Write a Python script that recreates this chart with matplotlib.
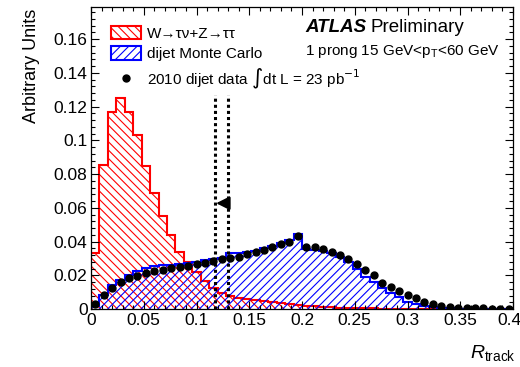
import numpy as np
import matplotlib
matplotlib.use('Agg')
import matplotlib.pyplot as plt
from matplotlib.patches import Patch
from matplotlib.lines import Line2D
from matplotlib.font_manager import FontProperties
from matplotlib.transforms import ScaledTranslation
from matplotlib.ticker import MultipleLocator, FixedLocator, FixedFormatter

plt.rcParams['font.family'] = ['Liberation Sans', 'DejaVu Sans']
plt.rcParams['mathtext.fontset'] = 'custom'
plt.rcParams['mathtext.rm'] = 'Liberation Sans'
plt.rcParams['mathtext.it'] = 'Liberation Sans:italic'
plt.rcParams['mathtext.bf'] = 'Liberation Sans:bold'
plt.rcParams['hatch.linewidth'] = 0.8

# ---------------- data ----------------
r_min, r_max, n_bins = 0.0, 0.4, 50

tau_signal = [0.0330, 0.0855, 0.1170, 0.1250, 0.1170, 0.1030, 0.0850, 0.0690, 0.0550, 0.0437,
              0.0338, 0.0277, 0.0221, 0.0166, 0.0122, 0.0093, 0.0077, 0.0068, 0.0060, 0.0053,
              0.0046, 0.0040, 0.0034, 0.0028, 0.0024, 0.0020, 0.0016, 0.0013, 0.0010, 0.0008,
              0.0006, 0.0005, 0.0004, 0.0003, 0.0002, 0.0002, 0.0001, 0.0001, 0.0001, 0.0001,
              0.0001, 0.0001, 0.0000, 0.0000, 0.0000, 0.0000, 0.0000, 0.0000, 0.0000, 0.0000]

dijet_mc = [0.0016, 0.0085, 0.0140, 0.0174, 0.0200, 0.0227, 0.0243, 0.0257, 0.0260, 0.0262,
            0.0265, 0.0270, 0.0280, 0.0290, 0.0296, 0.0300, 0.0330, 0.0330, 0.0335, 0.0345,
            0.0360, 0.0375, 0.0390, 0.0410, 0.0444, 0.0354, 0.0350, 0.0345, 0.0330, 0.0310,
            0.0280, 0.0240, 0.0190, 0.0158, 0.0122, 0.0093, 0.0073, 0.0043, 0.0028, 0.0018,
            0.0010, 0.0006, 0.0004, 0.0002, 0.0001, 0.0001, 0.0001, 0.0000, 0.0000, 0.0000]

dijet_data = [0.0030, 0.0085, 0.0124, 0.0158, 0.0184, 0.0197, 0.0213, 0.0224, 0.0234, 0.0245,
              0.0251, 0.0257, 0.0265, 0.0274, 0.0284, 0.0295, 0.0304, 0.0310, 0.0324, 0.0336,
              0.0350, 0.0369, 0.0385, 0.0399, 0.0433, 0.0369, 0.0366, 0.0354, 0.0340, 0.0320,
              0.0295, 0.0265, 0.0231, 0.0201, 0.0152, 0.0132, 0.0109, 0.0083, 0.0063, 0.0043,
              0.0030, 0.0020, 0.0014, 0.0008, 0.0006, 0.0004, 0.0003, 0.0002, 0.0002, 0.0001]

cut_low, cut_high = 0.118, 0.130
arrow_y, arrow_tip = 0.0627, 0.116
cut_line_top = 0.127

x_ticks = [0, 0.05, 0.1, 0.15, 0.2, 0.25, 0.3, 0.35, 0.4]
x_tick_labels = ['0', '0.05', '0.1', '0.15', '0.2', '0.25', '0.3', '0.35', '0.4']
y_ticks = [0, 0.02, 0.04, 0.06, 0.08, 0.1, 0.12, 0.14, 0.16]
y_tick_labels = ['0', '0.02', '0.04', '0.06', '0.08', '0.1', '0.12', '0.14', '0.16']

legend_labels = ['W\u2192\u03c4\u03bd+Z\u2192\u03c4\u03c4', 'dijet Monte Carlo',
                 r'2010 dijet data $\int$dt L = 23 pb$^{-1}$']

# ---------------- plot ----------------
edges = np.linspace(r_min, r_max, n_bins + 1)
centers = 0.5 * (edges[:-1] + edges[1:])

fig = plt.figure(figsize=(5.2, 3.67), dpi=100)
ax = fig.add_axes([91/520, 1-309/367, 422/520, 302/367])

ax.stairs(tau_signal, edges, fill=True, facecolor='none', edgecolor='red',
          hatch='\\\\\\\\', linewidth=0)
ax.stairs(tau_signal, edges, color='red', linewidth=1.5)
ax.stairs(dijet_mc, edges, fill=True, facecolor='none', edgecolor='blue',
          hatch='////', linewidth=0)
ax.stairs(dijet_mc, edges, color='blue', linewidth=1.5)
ax.plot(centers, dijet_data, 'o', color='black', markersize=5, zorder=5)

ax.vlines([cut_low, cut_high], 0, cut_line_top, colors='black', linestyles=(0, (1, 1)),
          linewidth=2.2, zorder=6)
ax.annotate('', xy=(arrow_tip, arrow_y), xytext=(cut_high, arrow_y),
            arrowprops=dict(arrowstyle='-|>,head_length=0.8,head_width=0.4',
                            color='black', lw=1.5), zorder=7)

ax.set_xlim(r_min, r_max)
ax.set_ylim(0, 0.179)
ax.xaxis.set_major_locator(FixedLocator(x_ticks))
ax.xaxis.set_major_formatter(FixedFormatter(x_tick_labels))
ax.yaxis.set_major_locator(FixedLocator(y_ticks))
ax.yaxis.set_major_formatter(FixedFormatter(y_tick_labels))
ax.xaxis.set_minor_locator(MultipleLocator(0.01))
ax.yaxis.set_minor_locator(MultipleLocator(0.004))
ax.tick_params(which='both', direction='in', top=True, right=True, width=0.8,
               labelsize=12.5)
ax.tick_params(which='major', length=6)
ax.tick_params(which='minor', length=3)
ax.tick_params(axis='x', pad=3)
ax.tick_params(axis='y', pad=2.5)
for s in ax.spines.values():
    s.set_linewidth(0.9)
# keep the last x label fully inside the canvas
last = ax.get_xticklabels()[-1]
last.set_transform(last.get_transform() + ScaledTranslation(-4/100, 0, fig.dpi_scale_trans))

handles = [Patch(facecolor='none', edgecolor='red', hatch='\\\\\\\\', linewidth=1.5),
           Patch(facecolor='none', edgecolor='blue', hatch='////', linewidth=1.5),
           Line2D([], [], marker='o', color='black', ls='none', markersize=5)]
leg_prop = FontProperties(family=['Liberation Sans', 'DejaVu Sans'], size=11,
                          math_fontfamily='dejavusans')
fig.legend(handles, legend_labels, loc='upper left', bbox_to_anchor=(111/520, 1-26/367),
           frameon=False, prop=leg_prop, handlelength=1.95, handleheight=0.95,
           handletextpad=0.4, labelspacing=0.36, borderpad=0, borderaxespad=0)

fig.text(305/520, 1-27/367, 'ATLAS', fontsize=13.5, fontweight='bold', style='italic',
         va='center', ha='left')
fig.text(371/520, 1-27/367, 'Preliminary', fontsize=13.5, va='center', ha='left')
fig.text(305/520, 1-51/367, r'1 prong 15 GeV<p$_{\mathrm{T}}$<60 GeV', fontsize=11,
         va='center', ha='left')

fig.text(32/520, 1-9/367, 'Arbitrary Units', rotation=90, ha='center', va='top', fontsize=13)
fig.text(516/520, 1-353/367, r'$R_{\mathrm{track}}$', ha='right', va='center', fontsize=14)

fig.savefig('out.png', dpi=100)
